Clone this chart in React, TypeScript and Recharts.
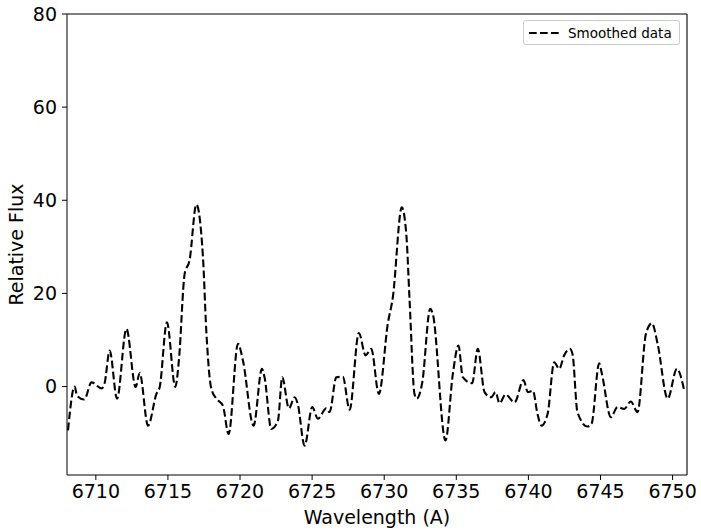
import { Legend, Line, LineChart, ReferenceLine, XAxis, YAxis } from "recharts";

// wavelength (A) and smoothed relative flux
const wavelength = [
  6708.07, 6708.53, 6708.7, 6709.2, 6709.7, 6710.4, 6710.6, 6710.96, 6711.47,
  6712.12, 6712.76, 6713.04, 6713.62, 6714.2, 6714.43, 6714.93, 6715.51,
  6715.76, 6716.16, 6716.5, 6716.97, 6717.43, 6717.66, 6718.01, 6718.36,
  6718.81, 6719.21, 6719.86, 6720.2, 6720.94, 6721.52, 6721.7, 6722.17,
  6722.63, 6722.93, 6723.39, 6723.79, 6724.0, 6724.48, 6725.01, 6725.4,
  6725.98, 6726.21, 6726.68, 6727.13, 6727.6, 6728.24, 6728.71, 6729.1,
  6729.63, 6730.25, 6730.6, 6731.22, 6731.53, 6731.76, 6732.1, 6732.26,
  6732.64, 6733.19, 6733.37, 6734.25, 6734.76, 6735.15, 6735.45, 6736.1,
  6736.49, 6736.96, 6737.42, 6737.72, 6738.0, 6738.41, 6739.04, 6739.66,
  6739.96, 6740.31, 6740.63, 6740.9, 6741.33, 6741.79, 6742.14, 6742.48,
  6742.87, 6743.06, 6743.4, 6744.1, 6744.38, 6744.91, 6745.1, 6745.72,
  6746.18, 6746.65, 6747.1, 6747.57, 6748.15, 6748.57, 6748.96, 6749.66,
  6750.3, 6750.81,
];

const flux = [
  -9.4, 0.0, -2.0, -2.8, 0.9, -0.4, 0.6, 7.7, -2.6,
  12.4, -0.1, 2.9, -8.4, -1.6, -0.1, 13.8, -0.1,
  5.6, 24.2, 27.1, 39.1, 27.8, 12.0, -0.5, -2.6,
  -4.1, -10.2, 9.2, 5.6, -8.4, 3.8, 2.0, -9.1,
  -7.3, 2.0, -4.7, -2.3, -3.7, -12.7, -4.4, -6.9,
  -4.7, -5.5, 2.0, 2.1, -5.0, 11.5, 6.7, 8.1,
  -1.6, 13.5, 19.2, 38.5, 32.8, 18.5, -1.6, -2.6,
  0.9, 16.7, 15.6, -11.6, 2.7, 8.8, 2.0, 0.7,
  8.1, -1.2, -2.3, -1.2, -3.6, -1.7, -3.4, 1.4,
  -1.2, -0.9, -5.9, -8.4, -5.9, 5.2, 3.8, 6.7,
  8.1, 7.0, -5.5, -8.6, -8.0, 5.0, 2.7, -6.6,
  -4.4, -4.8, -3.2, -5.5, 11.3, 13.6, 9.2, -2.6,
  3.8, -0.9,
];

const xTicks = [6710, 6715, 6720, 6725, 6730, 6735, 6740, 6745, 6750];
const yTicks = [0, 20, 40, 60, 80];

const chartData = wavelength.map((wl, i) => ({ wl, flux: flux[i] }));

const FONT = "'DejaVu Sans', sans-serif";

function YLabel(props: any) {
  const vb = props.viewBox;
  const x = vb.x + 16;
  const y = vb.y + vb.height / 2;
  return (
    <text
      x={x}
      y={y}
      transform={`rotate(-90, ${x}, ${y})`}
      textAnchor="middle"
      dominantBaseline="central"
      fontSize={19}
      fontFamily={FONT}
      fill="#000"
    >
      Relative Flux
    </text>
  );
}

function LegendBox() {
  return (
    <div
      style={{
        boxSizing: "border-box",
        width: 157,
        height: 25,
        border: "1px solid #cccccc",
        borderRadius: 3,
        background: "rgba(255,255,255,0.8)",
        display: "flex",
        alignItems: "center",
        fontFamily: FONT,
        fontSize: 13.5,
        color: "#000",
      }}
    >
      <svg width={40} height={10} style={{ marginLeft: 4 }}>
        <line
          x1={1}
          y1={5}
          x2={32}
          y2={5}
          stroke="#000"
          strokeWidth={2}
          strokeDasharray="7.7 3.3"
        />
      </svg>
      <span>Smoothed data</span>
    </div>
  );
}

export default function App() {
  return (
    <div style={{ position: "absolute", left: 0, top: 0, width: 701, height: 532, background: "#fff" }}>
      <LineChart
        width={701}
        height={532}
        data={chartData}
        margin={{ top: 14, right: 14, bottom: 0, left: 0 }}
        style={{ fontFamily: FONT }}
      >
        <XAxis
          dataKey="wl"
          type="number"
          domain={[6708, 6751]}
          ticks={xTicks}
          allowDataOverflow
          height={57}
          stroke="#000"
          tickSize={5}
          tickMargin={5}
          tick={{ fill: "#000", fontSize: 19, fontFamily: FONT }}
          label={{
            value: "Wavelength (A)",
            position: "insideBottom",
            offset: 8,
            fill: "#000",
            fontSize: 19,
            fontFamily: FONT,
          }}
        />
        <YAxis
          type="number"
          domain={[-19, 80]}
          ticks={yTicks}
          allowDataOverflow
          width={67}
          stroke="#000"
          tickSize={5}
          tickMargin={5}
          tick={{ fill: "#000", fontSize: 19, fontFamily: FONT }}
          label={<YLabel />}
        />
        <ReferenceLine y={80} stroke="#000" strokeWidth={1.1} />
        <ReferenceLine x={6751} stroke="#000" strokeWidth={1.1} />
        <Legend
          layout="horizontal"
          verticalAlign="middle"
          align="center"
          wrapperStyle={{ position: "absolute", top: 20, left: 523, width: 157, height: 25 }}
          content={() => <LegendBox />}
        />
        <Line
          type="monotone"
          dataKey="flux"
          stroke="#000"
          strokeWidth={2.1}
          strokeDasharray="7.7 3.3"
          dot={false}
          activeDot={false}
          isAnimationActive={false}
        />
      </LineChart>
    </div>
  );
}
